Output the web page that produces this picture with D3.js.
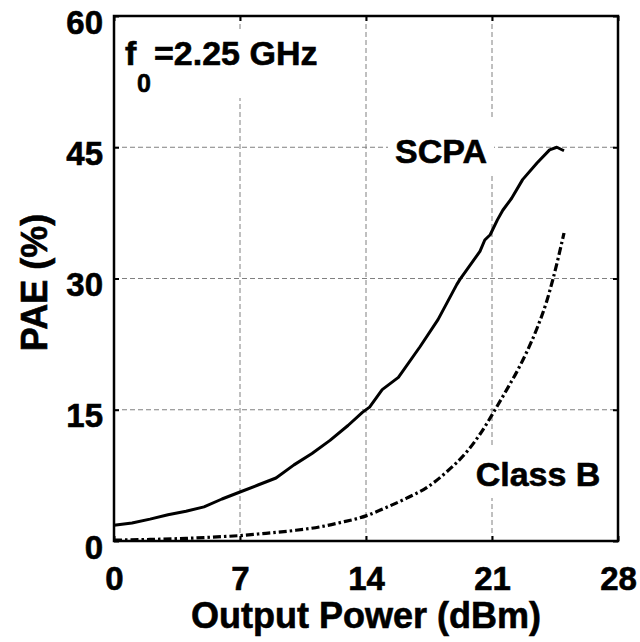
<!DOCTYPE html>
<html>
<head>
<meta charset="utf-8">
<script src="https://cdn.jsdelivr.net/npm/d3@7/dist/d3.min.js"></script>
<style>
  html, body { margin: 0; padding: 0; background: #fff; }
  svg { display: block; }
  text { font-family: "Liberation Sans", Arial, Helvetica, sans-serif; font-weight: bold; fill: #000; stroke: #000; stroke-width: 0.6px; }
</style>
</head>
<body>
<svg id="chart" width="640" height="642"></svg>
<script>
// Output power sweep (dBm) and power-added efficiency (%) for both amplifiers
const scpaPout = [0, 1, 2, 3, 4, 5, 6, 7, 8, 9, 10, 11, 12, 13, 13.8, 14.2, 14.9, 15.8, 17.0, 18.0, 19.04, 19.22, 20.33, 20.6, 20.9, 21.3, 21.6, 22.1, 22.7, 23.5, 24.2, 24.6, 25.0];
const scpaPae  = [1.8, 2.05, 2.5, 3.0, 3.4, 3.9, 4.8, 5.6, 6.4, 7.2, 8.7, 10.0, 11.5, 13.2, 14.7, 15.3, 17.3, 18.7, 22.2, 25.3, 29.3, 29.9, 33.1, 34.4, 35.0, 36.7, 37.8, 39.2, 41.3, 43.2, 44.7, 45.0, 44.6];

const classBPout = [0, 2, 4, 6, 7, 8, 10, 11.4, 12.56, 14.04, 15.15, 16.26, 17.37, 18.48, 19.6, 20.33, 21.17, 21.82, 22.37, 22.93, 23.48, 24.04, 24.37, 25.0];
const classBPae  = [0.1, 0.18, 0.3, 0.5, 0.62, 0.8, 1.2, 1.6, 2.1, 2.9, 3.85, 4.9, 6.1, 7.9, 10.2, 12.2, 15.0, 17.3, 19.3, 21.6, 24.2, 27.4, 29.8, 35.2];

const xTicks = [0, 7, 14, 21, 28];
const yTicks = [0, 15, 30, 45, 60];

const xTitle = "Output Power (dBm)";
const yTitle = "PAE (%)";
const scpaLabel = "SCPA";
const classBLabel = "Class B";

const svg = d3.select("#chart");
const plotL = 114, plotR = 618, plotT = 16, plotB = 541;

const x = d3.scaleLinear().domain([0, 28]).range([plotL, plotR]);
const y = d3.scaleLinear().domain([0, 60]).range([plotB, plotT]);

// dashed grid
const grid = svg.append("g").attr("stroke", "#808080").attr("stroke-width", 1)
  .attr("stroke-dasharray", "5,3").attr("fill", "none");
xTicks.slice(1, -1).forEach(v => {
  grid.append("line").attr("x1", x(v)).attr("x2", x(v)).attr("y1", plotT).attr("y2", plotB);
});
yTicks.slice(1, -1).forEach(v => {
  grid.append("line").attr("x1", plotL).attr("x2", plotR).attr("y1", y(v)).attr("y2", y(v));
});

// white backing behind the annotation labels
const boxes = svg.append("g").attr("fill", "#fff");
boxes.append("rect").attr("x", 120).attr("y", 30).attr("width", 206).attr("height", 68);
boxes.append("rect").attr("x", 388).attr("y", 120).attr("width", 106).attr("height", 55);
boxes.append("rect").attr("x", 471).attr("y", 445).attr("width", 136).attr("height", 53);

// curves
const scpaLine = d3.line().x(d => x(d[0])).y(d => y(d[1])).curve(d3.curveLinear);
const classBLine = d3.line().x(d => x(d[0])).y(d => y(d[1])).curve(d3.curveMonotoneX);
svg.append("path")
  .datum(scpaPout.map((p, i) => [p, scpaPae[i]]))
  .attr("d", scpaLine).attr("fill", "none").attr("stroke", "#000")
  .attr("stroke-width", 3).attr("stroke-linejoin", "round");
svg.append("path")
  .datum(classBPout.map((p, i) => [p, classBPae[i]]))
  .attr("d", classBLine).attr("fill", "none").attr("stroke", "#000")
  .attr("stroke-width", 3.2).attr("stroke-dasharray", "8,3,2.5,3");

// axes with inward ticks on all four sides
const tickLen = 5;
const axB = svg.append("g").attr("transform", `translate(0,${plotB})`)
  .call(d3.axisBottom(x).tickValues(xTicks).tickSize(-tickLen).tickFormat(d3.format("d")));
const axT = svg.append("g").attr("transform", `translate(0,${plotT})`)
  .call(d3.axisTop(x).tickValues(xTicks).tickSize(-tickLen).tickFormat(""));
const axL = svg.append("g").attr("transform", `translate(${plotL},0)`)
  .call(d3.axisLeft(y).tickValues(yTicks).tickSize(-tickLen).tickFormat(d3.format("d")));
const axR = svg.append("g").attr("transform", `translate(${plotR},0)`)
  .call(d3.axisRight(y).tickValues(yTicks).tickSize(-tickLen).tickFormat(""));

[axB, axT, axL, axR].forEach(g => {
  g.select(".domain").remove();
  g.selectAll(".tick line").attr("stroke", "#000").attr("stroke-width", 2);
  g.attr("font-family", null).attr("font-size", null);
});
axB.selectAll(".tick text")
  .attr("y", 49).attr("dy", null).attr("fill", "#000")
  .style("font-size", "33px");
axL.selectAll(".tick text")
  .attr("x", -11).attr("dy", "0.52em").attr("fill", "#000")
  .style("font-size", "33px");

// frame
svg.append("rect").attr("x", plotL).attr("y", plotT)
  .attr("width", plotR - plotL).attr("height", plotB - plotT)
  .attr("fill", "none").attr("stroke", "#000").attr("stroke-width", 2.5);

// axis titles
svg.append("text").attr("x", (plotL + plotR) / 2).attr("y", 628)
  .attr("text-anchor", "middle").style("font-size", "36px").text(xTitle);
svg.append("text").attr("transform", `translate(47,${(plotT + plotB) / 2 + 4}) rotate(-90)`)
  .attr("text-anchor", "middle").style("font-size", "36px").text(yTitle);

// frequency annotation with subscript
svg.append("text").attr("x", 125).attr("y", 65).style("font-size", "34px").text("f");
svg.append("text").attr("x", 137).attr("y", 92).style("font-size", "25px").text("0");
svg.append("text").attr("x", 154).attr("y", 65).style("font-size", "34px").text("=2.25 GHz");

svg.append("text").attr("x", 441).attr("y", 163).attr("text-anchor", "middle")
  .style("font-size", "34px").text(scpaLabel);
svg.append("text").attr("x", 538).attr("y", 486).attr("text-anchor", "middle")
  .style("font-size", "34px").text(classBLabel);
</script>
</body>
</html>
